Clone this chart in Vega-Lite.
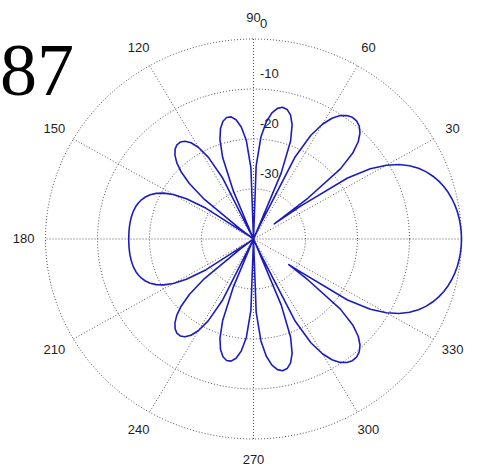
{
  "$schema": "https://vega.github.io/schema/vega-lite/v6.json",
  "width": 479,
  "height": 466,
  "padding": 0,
  "autosize": {"type": "none"},
  "background": "white",
  "config": {"view": {"stroke": null}},
  "datasets": {
    "pattern": [
      {"a":0,"db":0},{"a":2,"db":-0.03},{"a":4,"db":-0.11},{"a":6,"db":-0.24},{"a":8,"db":-0.43},{"a":10,"db":-0.69},
      {"a":12,"db":-1.02},{"a":14,"db":-1.43},{"a":16,"db":-1.93},{"a":18,"db":-2.54},{"a":20,"db":-3.28},{"a":22,"db":-4.17},
      {"a":24,"db":-5.26},{"a":26,"db":-6.61},{"a":28,"db":-8.29},{"a":30,"db":-10.49},{"a":32,"db":-13.51},{"a":34,"db":-18.19},
      {"a":36,"db":-28.72},{"a":37,"db":-35},{"a":38,"db":-26.69},{"a":40,"db":-18.18},{"a":42,"db":-14.32},{"a":44,"db":-12.0},
      {"a":46,"db":-10.52},{"a":48,"db":-9.61},{"a":50,"db":-9.16},{"a":52,"db":-9.11},{"a":54,"db":-9.46},{"a":56,"db":-10.23},
      {"a":58,"db":-11.52},{"a":60,"db":-13.49},{"a":62,"db":-16.5},{"a":64,"db":-21.68},{"a":66,"db":-36.96},{"a":66.4,"db":-40},
      {"a":68,"db":-25.79},{"a":70,"db":-19.15},{"a":72,"db":-15.96},{"a":74,"db":-14.19},{"a":76,"db":-13.29},{"a":78,"db":-13.07},
      {"a":80,"db":-13.47},{"a":82,"db":-14.53},{"a":84,"db":-16.42},{"a":86,"db":-19.57},{"a":88,"db":-25.44},{"a":90,"db":-40},
      {"a":92,"db":-25.79},{"a":94,"db":-20.27},{"a":96,"db":-17.46},{"a":98,"db":-15.92},{"a":100,"db":-15.2},{"a":102,"db":-15.16},
      {"a":104,"db":-15.73},{"a":106,"db":-16.99},{"a":108,"db":-19.12},{"a":110,"db":-22.67},{"a":112,"db":-29.68},{"a":113.6,"db":-40},
      {"a":114,"db":-40},{"a":116,"db":-26.31},{"a":118,"db":-21.52},{"a":120,"db":-18.88},{"a":122,"db":-17.31},{"a":124,"db":-16.41},
      {"a":126,"db":-16.03},{"a":128,"db":-16.09},{"a":130,"db":-16.55},{"a":132,"db":-17.42},{"a":134,"db":-18.75},{"a":136,"db":-20.65},
      {"a":138,"db":-23.4},{"a":140,"db":-27.69},{"a":142,"db":-36.65},{"a":143.1,"db":-40},{"a":144,"db":-39.12},{"a":146,"db":-29.02},
      {"a":148,"db":-24.78},{"a":150,"db":-22.2},{"a":152,"db":-20.44},{"a":154,"db":-19.18},{"a":156,"db":-18.26},{"a":158,"db":-17.58},
      {"a":160,"db":-17.07},{"a":162,"db":-16.71},{"a":164,"db":-16.45},{"a":166,"db":-16.27},{"a":168,"db":-16.16},{"a":170,"db":-16.08},
      {"a":172,"db":-16.04},{"a":174,"db":-16.02},{"a":176,"db":-16.01},{"a":178,"db":-16.01},{"a":180,"db":-16.01},
      {"a":182,"db":-16.01},{"a":184,"db":-16.01},{"a":186,"db":-16.02},{"a":188,"db":-16.04},{"a":190,"db":-16.08},{"a":192,"db":-16.16},
      {"a":194,"db":-16.27},{"a":196,"db":-16.45},{"a":198,"db":-16.71},{"a":200,"db":-17.07},{"a":202,"db":-17.58},{"a":204,"db":-18.26},
      {"a":206,"db":-19.18},{"a":208,"db":-20.44},{"a":210,"db":-22.2},{"a":212,"db":-24.78},{"a":214,"db":-29.02},{"a":216,"db":-39.12},
      {"a":216.9,"db":-40},{"a":218,"db":-36.65},{"a":220,"db":-27.69},{"a":222,"db":-23.4},{"a":224,"db":-20.65},{"a":226,"db":-18.75},
      {"a":228,"db":-17.42},{"a":230,"db":-16.55},{"a":232,"db":-16.09},{"a":234,"db":-16.03},{"a":236,"db":-16.41},{"a":238,"db":-17.31},
      {"a":240,"db":-18.88},{"a":242,"db":-21.52},{"a":244,"db":-26.31},{"a":246,"db":-40},{"a":246.4,"db":-40},{"a":248,"db":-29.68},
      {"a":250,"db":-22.67},{"a":252,"db":-19.12},{"a":254,"db":-16.99},{"a":256,"db":-15.73},{"a":258,"db":-15.16},{"a":260,"db":-15.2},
      {"a":262,"db":-15.92},{"a":264,"db":-17.46},{"a":266,"db":-20.27},{"a":268,"db":-25.79},{"a":270,"db":-40},{"a":272,"db":-25.44},
      {"a":274,"db":-19.57},{"a":276,"db":-16.42},{"a":278,"db":-14.53},{"a":280,"db":-13.47},{"a":282,"db":-13.07},{"a":284,"db":-13.29},
      {"a":286,"db":-14.19},{"a":288,"db":-15.96},{"a":290,"db":-19.15},{"a":292,"db":-25.79},{"a":293.6,"db":-40},{"a":294,"db":-36.96},
      {"a":296,"db":-21.68},{"a":298,"db":-16.5},{"a":300,"db":-13.49},{"a":302,"db":-11.52},{"a":304,"db":-10.23},{"a":306,"db":-9.46},
      {"a":308,"db":-9.11},{"a":310,"db":-9.16},{"a":312,"db":-9.61},{"a":314,"db":-10.52},{"a":316,"db":-12.0},{"a":318,"db":-14.32},
      {"a":320,"db":-18.18},{"a":322,"db":-26.69},{"a":323,"db":-31.5},{"a":324,"db":-28.72},{"a":326,"db":-18.19},{"a":328,"db":-13.51},
      {"a":330,"db":-10.49},{"a":332,"db":-8.29},{"a":334,"db":-6.61},{"a":336,"db":-5.26},{"a":338,"db":-4.17},{"a":340,"db":-3.28},
      {"a":342,"db":-2.54},{"a":344,"db":-1.93},{"a":346,"db":-1.43},{"a":348,"db":-1.02},{"a":350,"db":-0.69},{"a":352,"db":-0.43},
      {"a":354,"db":-0.24},{"a":356,"db":-0.11},{"a":358,"db":-0.03},{"a":360,"db":0}
    ],
    "spokes": [{"a":0},{"a":30},{"a":60},{"a":90},{"a":120},{"a":150}],
    "angleLabels": [
      {"a":0,"t":"0"},{"a":30,"t":"30"},{"a":60,"t":"60"},{"a":90,"t":"90"},{"a":120,"t":"120"},{"a":150,"t":"150"},
      {"a":180,"t":"180"},{"a":210,"t":"210"},{"a":240,"t":"240"},{"a":270,"t":"270"},{"a":300,"t":"300"},{"a":330,"t":"330"}
    ],
    "ringLabels": [{"t":"0","r":1},{"t":"-10","r":0.75},{"t":"-20","r":0.5},{"t":"-30","r":0.25}],
    "figure": [{"t":"87"}]
  },
  "encoding": {
    "x": {"field": "x", "type": "quantitative", "scale": {"domain": [-1.21875, 1.08413], "nice": false, "zero": false}, "axis": null},
    "y": {"field": "y", "type": "quantitative", "scale": {"domain": [-1.135, 1.195], "nice": false, "zero": false}, "axis": null}
  },
  "layer": [
    {
      "data": {"name": "pattern"},
      "transform": [
        {"calculate": "0.25", "as": "r1"},
        {"calculate": "0.5", "as": "r2"},
        {"calculate": "0.75", "as": "r3"},
        {"calculate": "1", "as": "r4"},
        {"fold": ["r1", "r2", "r3", "r4"], "as": ["ring", "rr"]},
        {"calculate": "datum.rr * cos(datum.a * PI / 180)", "as": "x"},
        {"calculate": "datum.rr * sin(datum.a * PI / 180)", "as": "y"}
      ],
      "mark": {"type": "line", "stroke": "#555555", "strokeWidth": 1, "strokeDash": [1, 2], "interpolate": "linear"},
      "encoding": {
        "detail": {"field": "ring"},
        "order": {"field": "a", "type": "quantitative"}
      }
    },
    {
      "data": {"name": "spokes"},
      "transform": [
        {"calculate": "cos(datum.a * PI / 180)", "as": "x"},
        {"calculate": "sin(datum.a * PI / 180)", "as": "y"},
        {"calculate": "-datum.x", "as": "x2"},
        {"calculate": "-datum.y", "as": "y2"}
      ],
      "mark": {"type": "rule", "stroke": "#555555", "strokeWidth": 1, "strokeDash": [1, 2]},
      "encoding": {
        "x2": {"field": "x2"},
        "y2": {"field": "y2"}
      }
    },
    {
      "data": {"name": "pattern"},
      "transform": [
        {"calculate": "max(0, (datum.db + 40) / 40)", "as": "r"},
        {"calculate": "datum.r * cos(datum.a * PI / 180)", "as": "x"},
        {"calculate": "datum.r * sin(datum.a * PI / 180)", "as": "y"}
      ],
      "mark": {"type": "line", "stroke": "#1c1cbe", "strokeWidth": 1.6, "strokeJoin": "round"},
      "encoding": {
        "order": {"field": "a", "type": "quantitative"}
      }
    },
    {
      "data": {"name": "angleLabels"},
      "transform": [
        {"calculate": "1.105 * cos(datum.a * PI / 180)", "as": "x"},
        {"calculate": "1.105 * sin(datum.a * PI / 180)", "as": "y"}
      ],
      "mark": {"type": "text", "font": "Liberation Sans", "fontSize": 13, "fill": "#1e1e1e", "align": "center", "baseline": "middle"},
      "encoding": {"text": {"field": "t"}}
    },
    {
      "data": {"name": "ringLabels"},
      "transform": [
        {"calculate": "0.031", "as": "x"},
        {"calculate": "datum.r", "as": "y"}
      ],
      "mark": {"type": "text", "font": "Liberation Sans", "fontSize": 13, "fill": "#1e1e1e", "align": "left", "baseline": "middle", "dy": -15},
      "encoding": {"text": {"field": "t"}}
    },
    {
      "data": {"name": "figure"},
      "transform": [
        {"calculate": "-1.2188", "as": "x"},
        {"calculate": "0.72", "as": "y"}
      ],
      "mark": {"type": "text", "font": "Liberation Serif", "fontSize": 74, "fill": "black", "align": "left", "baseline": "alphabetic"},
      "encoding": {"text": {"field": "t"}}
    }
  ]
}
